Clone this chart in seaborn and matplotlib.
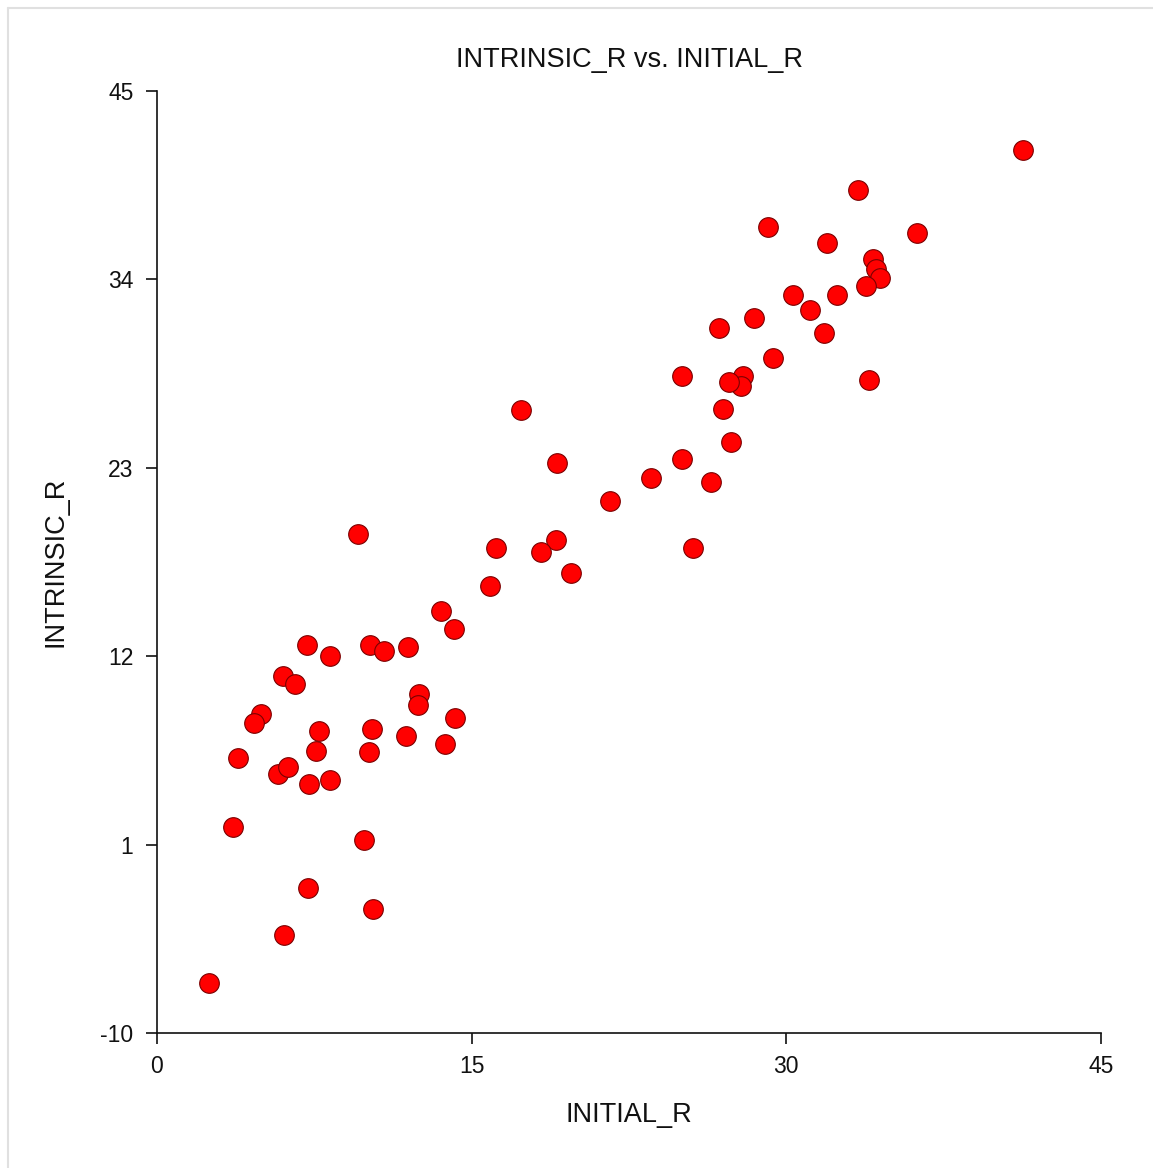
import matplotlib
matplotlib.use("Agg")
import matplotlib.pyplot as plt
from matplotlib.lines import Line2D
import seaborn as sns
import pandas as pd

# Data
initial_r = [41.28, 33.41, 29.12, 36.22, 31.93,
             34.14, 34.26, 34.46, 33.80,
             30.31, 32.41, 31.13, 28.46, 26.79, 31.79, 29.36, 25.02,
             27.95, 27.85, 27.25, 33.94, 26.98, 17.35, 27.36, 19.07,
             25.02, 23.55, 26.41, 21.59, 9.58, 19.02, 16.16, 18.30,
             25.55, 19.73, 15.87, 13.54, 14.16, 7.15, 10.15, 11.96,
             10.82, 8.25, 6.01, 6.58, 12.49, 12.44, 4.96, 4.62,
             14.20, 7.72, 10.25, 11.87, 7.58, 10.10, 13.73, 3.86,
             5.78, 6.26, 7.25, 8.25, 3.62, 9.87, 7.20, 10.30,
             6.05, 2.48]
intrinsic_r = [41.56, 39.22, 37.06, 36.71, 36.13,
               35.19, 34.61, 34.07, 33.63,
               33.09, 33.09, 32.21, 31.75, 31.16, 30.87, 29.41, 28.36,
               28.38, 27.78, 27.99, 28.13, 26.43, 26.38, 24.51, 23.28,
               23.51, 22.41, 22.17, 21.06, 19.14, 18.78, 18.32, 18.08,
               18.32, 16.86, 16.10, 14.64, 13.59, 12.65, 12.65, 12.54,
               12.30, 12.01, 10.84, 10.38, 9.79, 9.15, 8.63, 8.10,
               8.39, 7.63, 7.75, 7.34, 6.47, 6.41, 6.87, 6.06,
               5.12, 5.55, 4.54, 4.77, 2.03, 1.27, -1.53, -2.76,
               -4.28, -7.08]

x_ticks = [0, 15, 30, 45]
y_ticks = [-10, 1, 12, 23, 34, 45]
title = "INTRINSIC_R vs. INITIAL_R"
x_label = "INITIAL_R"
y_label = "INTRINSIC_R"

df = pd.DataFrame({x_label: initial_r, y_label: intrinsic_r})

sns.set_theme(style="white")
plt.rcParams['font.family'] = ['Liberation Sans', 'DejaVu Sans']

W, H = 1153, 1168
fig = plt.figure(figsize=(W / 100, H / 100), dpi=100)
fig.patch.set_facecolor("white")
ax = fig.add_axes([157 / W, 1 - 1033 / H, (1101 - 157) / W, (1033 - 91) / H])

sns.scatterplot(data=df, x=x_label, y=y_label, ax=ax, s=200,
                color="#ff0000", edgecolor="#7a0000", linewidth=0.8,
                alpha=1.0, zorder=3, clip_on=False)

ax.set_xlim(0, 45)
ax.set_ylim(-10, 45)
ax.set_xticks(x_ticks)
ax.set_yticks(y_ticks)
ax.set_xticklabels([str(v) for v in x_ticks])
ax.set_yticklabels([str(v) for v in y_ticks])

for side in ["top", "right"]:
    ax.spines[side].set_visible(False)
for side in ["left", "bottom"]:
    ax.spines[side].set_visible(True)
    ax.spines[side].set_color("#111111")
    ax.spines[side].set_linewidth(1.2)

ax.tick_params(axis="both", direction="out", length=8, width=1.2,
               color="#111111", labelsize=16.5, labelcolor="#111111",
               bottom=True, left=True)
ax.tick_params(axis="x", pad=8)
ax.tick_params(axis="y", pad=9)

ax.set_title(title, fontsize=19.5, color="#111111", pad=17)
ax.set_xlabel(x_label, fontsize=19.5, color="#111111", labelpad=17)
ax.set_ylabel(y_label, fontsize=19.5, color="#111111", labelpad=23)
ax.grid(False)
ax.set_facecolor("white")

# light frame lines along top and left of the figure
fig.add_artist(Line2D([8 / W, 1], [1 - 7.5 / H, 1 - 7.5 / H],
                      transform=fig.transFigure, color="#e0e0e0", lw=1.5))
fig.add_artist(Line2D([8 / W, 8 / W], [0, 1 - 7.5 / H],
                      transform=fig.transFigure, color="#e0e0e0", lw=1.5))

fig.savefig("out.png", dpi=100, facecolor="white")
